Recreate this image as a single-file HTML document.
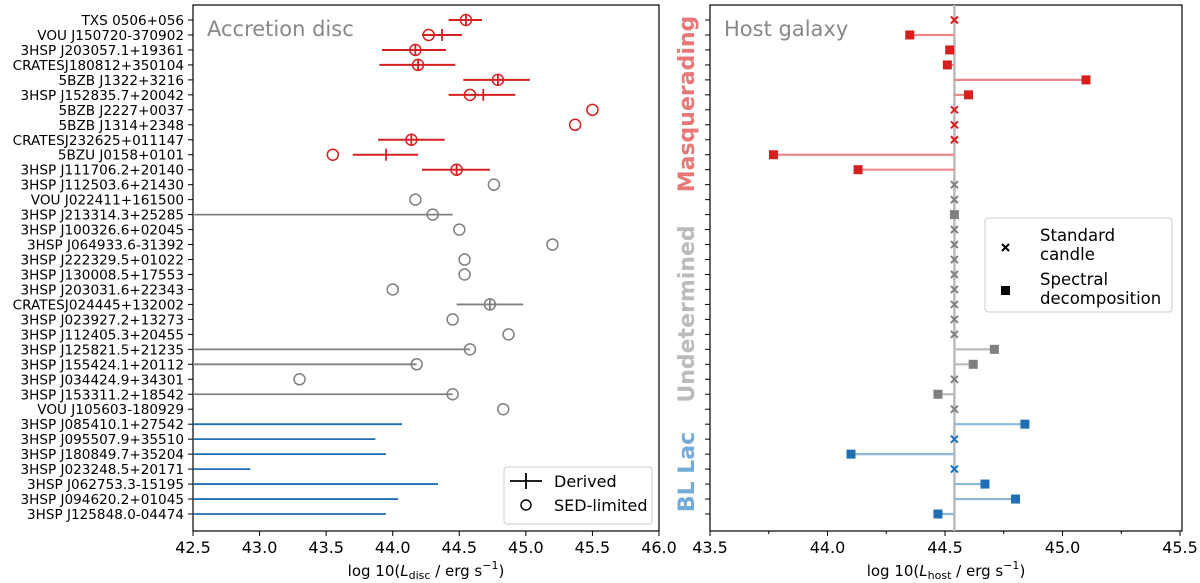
<!DOCTYPE html>
<html><head><meta charset="utf-8"><style>
body{margin:0;background:#fff;}
svg{display:block;font-family:"DejaVu Sans","Liberation Sans",sans-serif;}
</style></head><body>
<svg id="c" width="1200" height="583" xmlns="http://www.w3.org/2000/svg"></svg>
<script>
const names=["TXS 0506+056","VOU J150720-370902","3HSP J203057.1+19361","CRATESJ180812+350104","5BZB J1322+3216","3HSP J152835.7+20042","5BZB J2227+0037","5BZB J1314+2348","CRATESJ232625+011147","5BZU J0158+0101","3HSP J111706.2+20140","3HSP J112503.6+21430","VOU J022411+161500","3HSP J213314.3+25285","3HSP J100326.6+02045","3HSP J064933.6-31392","3HSP J222329.5+01022","3HSP J130008.5+17553","3HSP J203031.6+22343","CRATESJ024445+132002","3HSP J023927.2+13273","3HSP J112405.3+20455","3HSP J125821.5+21235","3HSP J155424.1+20112","3HSP J034424.9+34301","3HSP J153311.2+18542","VOU J105603-180929","3HSP J085410.1+27542","3HSP J095507.9+35510","3HSP J180849.7+35204","3HSP J023248.5+20171","3HSP J062753.3-15195","3HSP J094620.2+01045","3HSP J125848.0-04474"];
const groups=["m","m","m","m","m","m","m","m","m","m","m","u","u","u","u","u","u","u","u","u","u","u","u","u","u","u","u","b","b","b","b","b","b","b"];
const discCircle=[44.55,44.27,44.17,44.19,44.79,44.58,45.50,45.37,44.14,43.55,44.48,44.76,44.17,44.30,44.50,45.20,44.54,44.54,44.00,44.73,44.45,44.87,44.58,44.18,43.30,44.45,44.83,null,null,null,null,null,null,null];
const discCross=[44.55,44.37,44.17,44.19,44.79,44.68,null,null,44.14,43.95,44.48,null,null,null,null,null,null,null,null,44.73,null,null,null,null,null,null,null,null,null,null,null,null,null,null];
const errLo=[44.42,44.22,43.92,43.90,44.53,44.42,null,null,43.89,43.70,44.22,null,null,42.5,null,null,null,null,null,44.48,null,null,42.5,42.5,null,42.5,null,42.5,42.5,42.5,42.5,42.5,42.5,42.5];
const errHi=[44.67,44.52,44.40,44.47,45.03,44.92,null,null,44.39,44.19,44.73,null,null,44.45,null,null,null,null,null,44.98,null,null,44.58,44.18,null,44.45,null,44.07,43.87,43.95,42.93,44.34,44.04,43.95];
const hostBase=44.54;
const hostVal=[null,44.35,44.52,44.51,45.10,44.60,null,null,null,43.77,44.13,null,null,44.54,null,null,null,null,null,null,null,null,44.71,44.62,null,44.47,null,44.84,null,44.10,null,44.67,44.80,44.47];
const leftTicks=[42.5,43.0,43.5,44.0,44.5,45.0,45.5,46.0];
const rightTicks=[43.5,44.0,44.5,45.0,45.5];

const svg=document.getElementById('c');
const NS="http://www.w3.org/2000/svg";
function mk(t,a,p){const e=document.createElementNS(NS,t);for(const k in a)e.setAttribute(k,a[k]);(p||svg).appendChild(e);return e;}
const TOPY=5,BOTY=531;
const yr=i=>20+i*14.97;
const xL=v=>193+(v-42.5)*(466/3.5);
const xR=v=>710+(v-43.5)*235;
const colM={m:"#d62020",u:"#808080",b:"#1f6fb4"};
const colL={m:"#ee8888",u:"#bbbbbb",b:"#88b8de"};

let g=mk('g',{});


mk('rect',{x:193,y:TOPY,width:466,height:BOTY-TOPY,fill:'none',stroke:'#000','stroke-width':1.2},g);
leftTicks.forEach(t=>{const x=xL(t);mk('line',{x1:x,x2:x,y1:BOTY,y2:BOTY+5,stroke:'#000'},g);
 const tx=mk('text',{x:x,y:BOTY+22,'font-size':16,'text-anchor':'middle'},g);tx.textContent=t.toFixed(1);
 
 });
names.forEach((n,i)=>{mk('line',{x1:188,x2:193,y1:yr(i),y2:yr(i),stroke:'#000'},g);
 const tx=mk('text',{x:184,y:yr(i)+5,'font-size':13.6,'text-anchor':'end'},g);tx.textContent=n;
 
 });
let t1=mk('text',{x:207,y:36,'font-size':21,fill:'#888'},g);t1.textContent="Accretion disc";


let xl=mk('text',{x:426,y:576,'font-size':15,'text-anchor':'middle'},g);
xl.innerHTML='log 10(<tspan font-style="italic">L</tspan><tspan font-size="11" dy="3">disc</tspan><tspan dy="-3"> / erg s</tspan><tspan font-size="11" dy="-7">−1</tspan><tspan dy="7">)</tspan>';


names.forEach((n,i)=>{const c=colM[groups[i]];const yy=yr(i);
 if(errLo[i]!=null){const e=mk('line',{x1:xL(errLo[i]),x2:xL(errHi[i]),y1:yy,y2:yy,stroke:c,'stroke-width':groups[i]==='m'?2:1.8},g);
  
  }
 if(discCross[i]!=null){const x=xL(discCross[i]);const e=mk('line',{x1:x,x2:x,y1:yy-6,y2:yy+6,stroke:c,'stroke-width':1.8},g);
  
  }
 if(discCircle[i]!=null){const e=mk('circle',{cx:xL(discCircle[i]),cy:yy,r:5.5,fill:'none',stroke:c,'stroke-width':1.5},g);
  
  }
});
let lg=mk('g',{},g);


mk('rect',{x:504,y:467,width:148,height:57,rx:3,fill:'#fff',stroke:'#ccc'},lg);
mk('line',{x1:510,x2:542,y1:481,y2:481,stroke:'#000','stroke-width':1.8},lg);
mk('line',{x1:526,x2:526,y1:473,y2:489,stroke:'#000','stroke-width':1.8},lg);
mk('circle',{cx:526,cy:505,r:5,fill:'none',stroke:'#000','stroke-width':1.4},lg);
let a=mk('text',{x:554,y:487,'font-size':16},lg);a.textContent="Derived";
a=mk('text',{x:554,y:511,'font-size':16},lg);a.textContent="SED-limited";

let h=mk('g',{});


mk('rect',{x:710,y:TOPY,width:472,height:BOTY-TOPY,fill:'none',stroke:'#000','stroke-width':1.2},h);
rightTicks.forEach(t=>{const x=xR(t);mk('line',{x1:x,x2:x,y1:BOTY,y2:BOTY+5,stroke:'#000'},h);
 const tx=mk('text',{x:x,y:BOTY+22,'font-size':16,'text-anchor':'middle'},h);tx.textContent=t.toFixed(1);
 
 });
[43.75,44.25,44.75,45.25].forEach(t=>mk('line',{x1:xR(t),x2:xR(t),y1:BOTY,y2:BOTY+3,stroke:'#000'},h));
names.forEach((n,i)=>mk('line',{x1:705,x2:710,y1:yr(i),y2:yr(i),stroke:'#000'},h));
mk('line',{x1:xR(hostBase),x2:xR(hostBase),y1:TOPY,y2:BOTY,stroke:'#bbb','stroke-width':2.5},h);
let t2=mk('text',{x:724,y:36,'font-size':21,fill:'#888'},h);t2.textContent="Host galaxy";


let xl2=mk('text',{x:946,y:576,'font-size':15,'text-anchor':'middle'},h);
xl2.innerHTML='log 10(<tspan font-style="italic">L</tspan><tspan font-size="11" dy="3">host</tspan><tspan dy="-3"> / erg s</tspan><tspan font-size="11" dy="-7">−1</tspan><tspan dy="7">)</tspan>';


names.forEach((n,i)=>{const grp=groups[i];const c=colM[grp];const yy=yr(i);const x0=xR(hostBase);
 if(hostVal[i]==null){const s=3.5;const e=mk('path',{d:`M${x0-s},${yy-s}L${x0+s},${yy+s}M${x0-s},${yy+s}L${x0+s},${yy-s}`,stroke:c,'stroke-width':2},h);
  
  }
 else{const x=xR(hostVal[i]);mk('line',{x1:x0,x2:x,y1:yy,y2:yy,stroke:colL[grp],'stroke-width':2.2},h);
  const e=mk('rect',{x:x-4.5,y:yy-4.5,width:9,height:9,fill:c},h);
  
  }
});
function vlab(txt,cy,col,nm){const e=mk('text',{x:0,y:0,'font-size':22,'font-weight':'bold',fill:col,'text-anchor':'middle',transform:`translate(694,${cy}) rotate(-90)`},h);e.textContent=txt;
 
 }
vlab("Masquerading",104,"#e87878","group-label-masquerading");
vlab("Undetermined",314,"#bbbbbb","group-label-undetermined");
vlab("BL Lac",472,"#74aad8","group-label-bl-lac");
let rg=mk('g',{},h);


mk('rect',{x:985,y:218,width:187,height:94,rx:3,fill:'#fff',stroke:'#ccc'},rg);
mk('path',{d:'M1002,244L1009,251M1002,251L1009,244',stroke:'#000','stroke-width':2},rg);
mk('rect',{x:1001,y:286,width:9,height:9,fill:'#000'},rg);
[["Standard",241],["candle",260],["Spectral",285],["decomposition",304]].forEach(([s,yy])=>{const e=mk('text',{x:1040,y:yy,'font-size':16.5},rg);e.textContent=s;});
</script>
</body></html>
